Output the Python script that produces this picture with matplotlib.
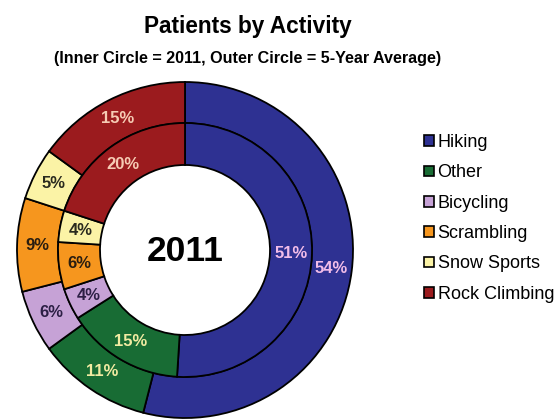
import matplotlib.pyplot as plt
from matplotlib.patches import Patch

plt.rcParams['font.family'] = ['Liberation Sans', 'DejaVu Sans']

activities = ["Hiking", "Other", "Bicycling", "Scrambling", "Snow Sports", "Rock Climbing"]
avg_5yr = [54, 11, 6, 9, 5, 15]   # outer circle
year_2011 = [51, 15, 4, 6, 4, 20]  # inner circle

colors = ["#2e3192", "#186c34", "#c6a2d6", "#f6961e", "#fbf3a6", "#9b1b1e"]
label_colors = ["#f2bde9", "#f1eba2", "#2c1f45", "#2a1e10", "#2a2a1e", "#f6cbb4"]

fig = plt.figure(figsize=(5.56, 4.19), dpi=100)
ax = fig.add_axes([17 / 556, 1 / 419, 336 / 556, 336 / 419])

wedge_style = dict(edgecolor="black", linewidth=1.3)

# outer ring: 5-year average
outer, _, outer_txt = ax.pie(avg_5yr, radius=1.0, colors=colors, startangle=90,
                             counterclock=False, autopct="%.0f%%", pctdistance=0.878,
                             wedgeprops=dict(width=0.245, **wedge_style))
# inner ring: 2011
inner, _, inner_txt = ax.pie(year_2011, radius=0.756, colors=colors, startangle=90,
                             counterclock=False, autopct="%.0f%%", pctdistance=0.835,
                             wedgeprops=dict(width=0.25, **wedge_style))

for txts in (outer_txt, inner_txt):
    for t, c in zip(txts, label_colors):
        t.set_color(c)
        t.set_fontsize(12)
        t.set_fontweight("bold")

ax.text(0, -0.01, "2011", ha="center", va="center", fontsize=25.5, fontweight="bold")
ax.set_xlim(-1, 1)
ax.set_ylim(-1, 1)
ax.set_aspect("equal")

fig.text(248 / 556, 1 - 26 / 419, "Patients by Activity", ha="center", va="center",
         fontsize=16.3, fontweight="bold")
fig.text(248 / 556, 1 - 58 / 419, "(Inner Circle = 2011, Outer Circle = 5-Year Average)",
         ha="center", va="center", fontsize=11.6, fontweight="bold")

handles = [Patch(facecolor=c, edgecolor="black", linewidth=1.2) for c in colors]
fig.legend(handles, activities, loc="upper left", bbox_to_anchor=(424 / 556, 1 - 134 / 419),
           frameon=False, fontsize=13, handlelength=0.55, handleheight=0.55,
           handletextpad=0.2, labelspacing=0.74, borderpad=0, borderaxespad=0)

fig.savefig("out.png", dpi=100, facecolor="white")
